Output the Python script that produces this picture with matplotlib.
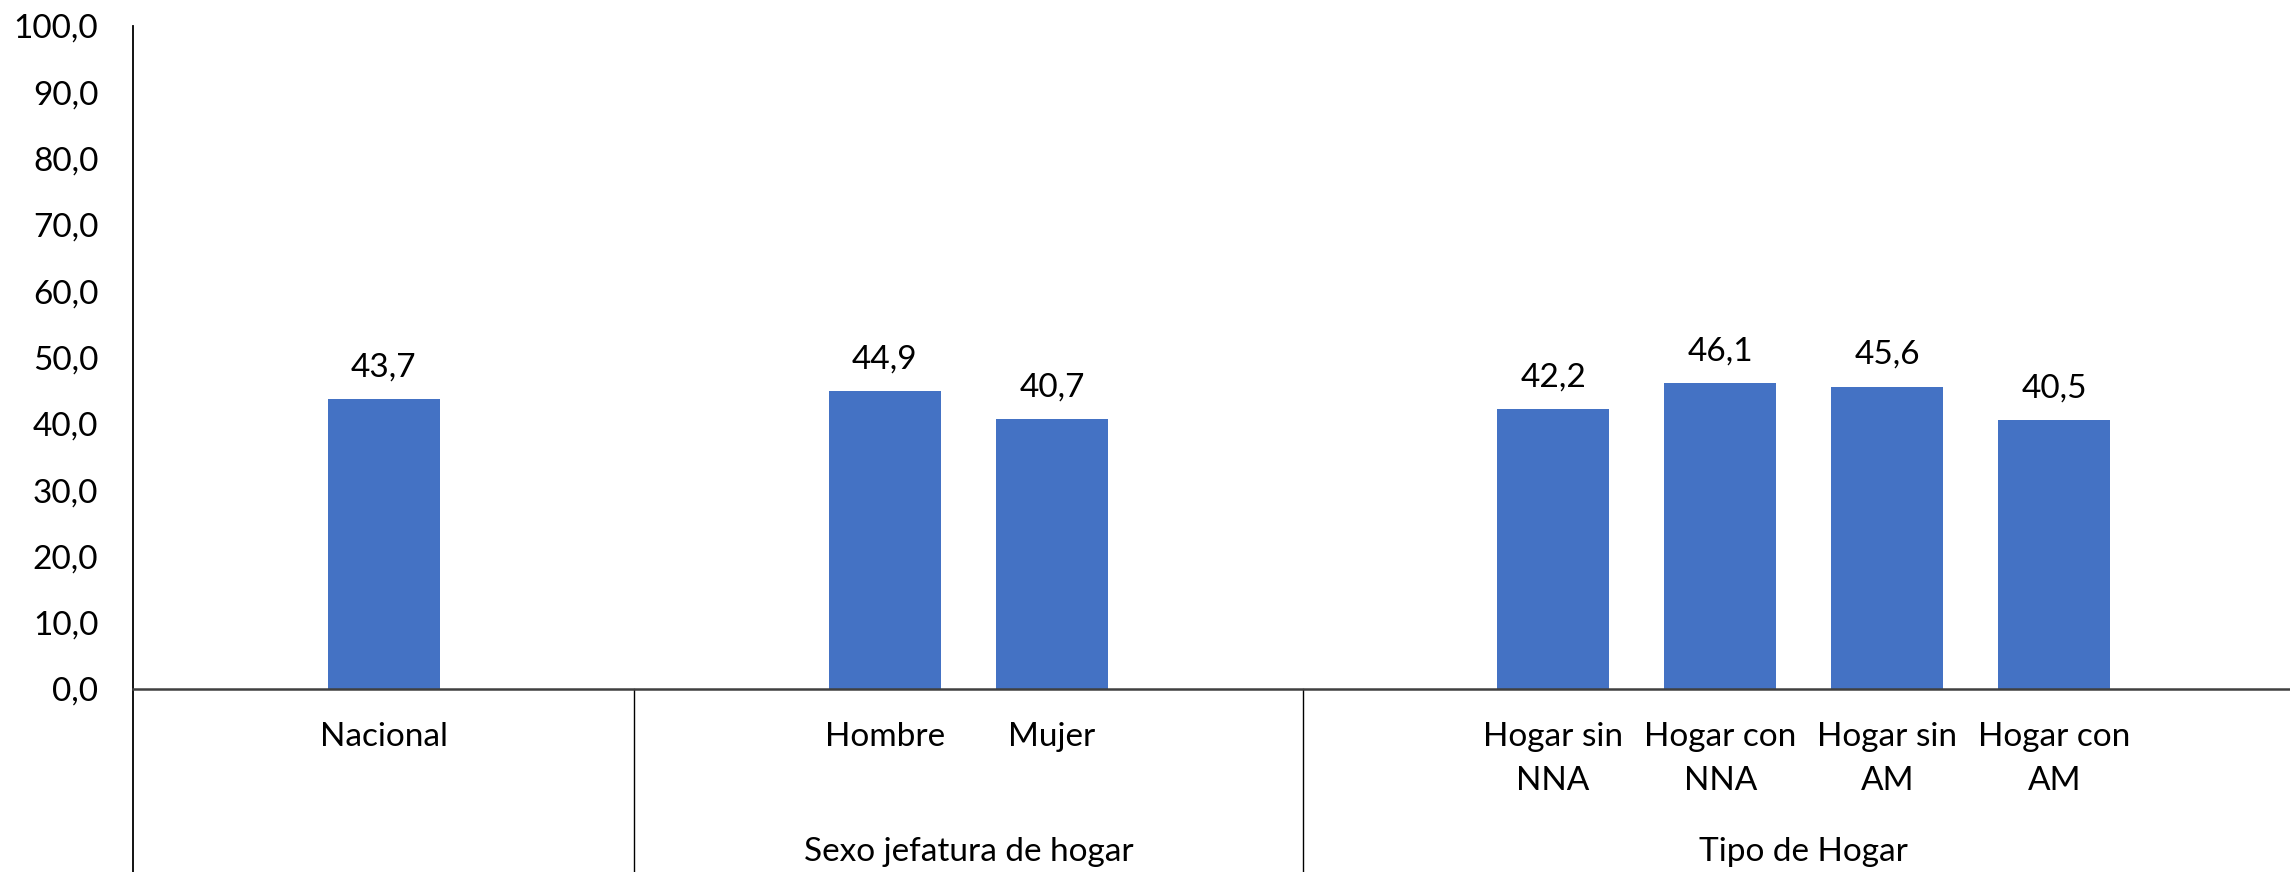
import matplotlib
matplotlib.use("Agg")
import matplotlib.pyplot as plt

# data
categorias = ["Nacional", "Hombre", "Mujer", "Hogar sin\nNNA", "Hogar con\nNNA",
              "Hogar sin\nAM", "Hogar con\nAM"]
valores = [43.7, 44.9, 40.7, 42.2, 46.1, 45.6, 40.5]
# slot of each bar on the category axis (13 slots, blanks between groups)
posiciones = [1, 4, 5, 8, 9, 10, 11]
grupos = ["", "Sexo jefatura de hogar", "Tipo de Hogar"]
grupo_limites = [0, 3, 7, 13]

plt.rcParams['font.family'] = ['Lato', 'DejaVu Sans']
AZUL = '#4472C4'
FS = 24

W, H = 2290, 872
x0, x1 = 133, 2305
y0, y1 = 689, 26

fig = plt.figure(figsize=(W / 100, H / 100), dpi=100)
ax = fig.add_axes([x0 / W, (H - y0) / H, (x1 - x0) / W, (y0 - y1) / H])

xs = [p + 0.5 for p in posiciones]
bars = ax.bar(xs, valores, width=0.67, color=AZUL, zorder=2)
ax.bar_label(bars, labels=[f"{v:.1f}".replace('.', ',') for v in valores],
             padding=12, fontsize=FS)

ax.set_xlim(0, 13)
ax.set_ylim(0, 100)
ax.set_yticks(range(0, 101, 10))
ax.set_yticklabels([f"{t:.1f}".replace('.', ',') for t in range(0, 101, 10)], fontsize=FS)
ax.set_xticks(xs)
ax.set_xticklabels(categorias, fontsize=FS, linespacing=1.58)
ax.tick_params(axis='both', length=0)
ax.tick_params(axis='y', pad=25)
ax.tick_params(axis='x', pad=24)

for s in ['top', 'right', 'left']:
    ax.spines[s].set_visible(False)
ax.spines['bottom'].set_color('#404040')
ax.spines['bottom'].set_linewidth(1.8)

# axis line and group separators reaching down to the figure edge
fondo = -(H - y0) / (y0 - y1)
trans = ax.get_xaxis_transform()
ax.plot([0, 0], [fondo, 1], transform=trans, color='black', lw=1.3, clip_on=False)
for b in grupo_limites[1:-1]:
    ax.plot([b, b], [fondo, 0], transform=trans, color='black', lw=1.0, clip_on=False)

# group titles
y_grupo = -(852 - y0) / (y0 - y1)
for g, a, b in zip(grupos, grupo_limites[:-1], grupo_limites[1:]):
    if g:
        ax.text((a + b) / 2, y_grupo, g, transform=trans, ha='center', va='center',
                fontsize=FS)

fig.savefig("out.png", dpi=100)
